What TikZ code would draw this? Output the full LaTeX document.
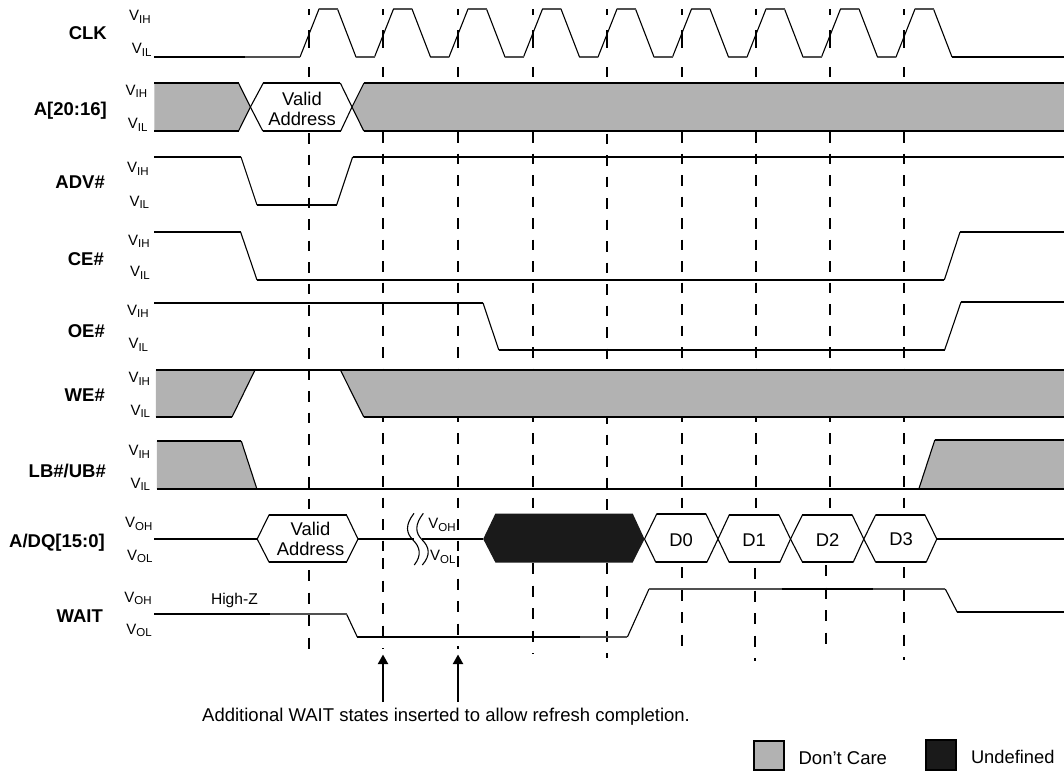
\documentclass[tikz,border=0pt]{standalone}
\usepackage{fontspec}
\setmainfont{Liberation Sans}
\usetikzlibrary{arrows.meta}
\definecolor{dc}{HTML}{B2B2B2}
\definecolor{ud}{HTML}{1A1A1A}
\definecolor{thinl}{HTML}{505050}
\newcommand{\vsub}[1]{\raisebox{-2.7pt}{\fontsize{11.5}{12}\selectfont #1}}
\newcommand{\dcol}[5]{%
  \draw[dashseg] (#1,9)--(#1,15) (#1,30)--(#1,48) (#1,67)--(#1,77);
  \draw[dashseg,dash pattern=on 10.5pt off 11pt] (#1,#3)--(#1,556);
  \draw[dashseg,dash pattern=on 11pt off 11.5pt] (#2,#4)--(#2,#5);
}
\tikzset{
  x=1pt,y=-1pt,
  siglabel/.style={inner sep=0pt,anchor=base east,font=\fontsize{18.5}{20}\selectfont\bfseries},
  lvl/.style={inner sep=0pt,anchor=base west,font=\fontsize{15}{16}\selectfont},
  txt/.style={inner sep=0pt,font=\fontsize{18.4}{20}\selectfont,align=center},
  hl/.style={line width=2pt,black,line join=miter},
  tl/.style={line width=1.4pt,thinl},
  sl/.style={line width=1.1pt,black,line join=round},
  dashseg/.style={line width=2pt,black},
  dcfill/.style={fill=dc,draw=none},
  hexa/.style={fill=white,draw=black,line width=1.1pt,line join=miter},
  legendbox/.style={line width=2pt,draw=black},
  callout/.style={line width=2pt,-{Triangle[length=9.5pt,width=10pt]}}
}
\begin{document}
\begin{tikzpicture}
\useasboundingbox (0,0) rectangle (1064,772);
\fill[white] (0,0) rectangle (1064,772);
% reference lines
\dcol{309}{309}{133}{570}{654}
\dcol{383}{383}{132}{558}{649}
\dcol{458}{458}{132}{556}{649}
\dcol{533}{533}{132}{563}{654}
\dcol{607}{607}{133.5}{563}{658}
\dcol{682}{682}{132}{567}{656}
\dcol{756}{755}{132}{568}{661}
\dcol{830}{826}{132}{565}{655}
\dcol{904}{904}{132}{567}{660}
% CLK
\draw[sl] (300,57)
  \foreach \k in {0,...,8} {
    -- ({300+74.5*\k+19},9) -- ({300+74.5*\k+37.5},9) -- ({300+74.5*\k+56},57)
    \ifnum\k<8 -- ({300+74.5*\k+74.5},57)\fi
  };
\foreach \k in {0,...,8} {
  \draw[tl] ({300+74.5*\k+19},9) -- ({300+74.5*\k+37.5},9);
  \ifnum\k<8 \draw[tl] ({300+74.5*\k+56},57) -- ({300+74.5*\k+74.5},57);\fi
}
\draw[tl] (245,57)--(300,57);
\draw[hl] (154.4,57)--(245,57) (952,57)--(1064,57);
% A[20:16]
\fill[dcfill] (154.4,83)--(238.5,83)--(250.4,107)--(238.5,131)--(154.4,131)--cycle;
\fill[dcfill] (352,107)--(364,83)--(1064,83)--(1064,131)--(363.5,131)--cycle;
\fill[white] (250.4,107)--(263.3,83)--(340.3,83)--(352,107)--(340.7,131)--(262.8,131)--cycle;
\draw[sl] (238.5,83)--(250.4,107)--(238.5,131);
\draw[sl] (263.3,83)--(250.4,107)--(262.8,131);
\draw[sl] (340.3,83)--(352,107)--(340.7,131);
\draw[sl] (364,83)--(352,107)--(363.8,131);
\draw[hl] (154.4,83)--(238.5,83) (154.4,131)--(238.5,131);
\draw[hl] (263.3,83)--(340.3,83) (262.8,131)--(340.7,131);
\draw[hl] (364,83)--(1064,83) (363.8,131)--(1064,131);
\node[txt] (va1) at (302,109) {Valid\\Address};
% ADV#
\draw[sl] (241,157)--(257,205) (336.6,205)--(352.6,157);
\draw[hl] (154.4,157)--(241,157) (257,205)--(336.6,205) (352.6,157)--(1064,157);
% CE#
\draw[sl] (240.6,232)--(257,280) (944.3,280)--(960,232);
\draw[hl] (154.4,232)--(240.6,232) (257,280)--(944.3,280) (960,232)--(1064,232);
% OE#
\draw[sl] (483,303)--(498.8,350) (944.6,350)--(961,302);
\draw[hl] (154.4,303)--(483,303) (498.8,350)--(944.6,350) (961,302)--(1064,302);
% WE#
\fill[dcfill] (155.8,370)--(255,370)--(232,417)--(155.8,417)--cycle;
\fill[dcfill] (340.4,370)--(1064,370)--(1064,417)--(363.8,417)--cycle;
\draw[sl] (255,370)--(232,417) (340.4,370)--(363.8,417);
\draw[hl] (155.8,370)--(1064,370) (155.8,417)--(232,417) (363.8,417)--(1064,417);
% LB#/UB#
\fill[dcfill] (156.8,441)--(241.3,441)--(256.9,489)--(156.8,489)--cycle;
\fill[dcfill] (918.8,489)--(934.8,440)--(1064,440)--(1064,489)--cycle;
\draw[sl] (241.3,441)--(256.9,489) (918.8,489)--(934.8,440);
\draw[hl] (156.8,441)--(241.3,441) (156.8,489)--(1064,489) (934.8,440)--(1064,440);
% A/DQ[15:0]
\draw[hl] (154.4,539)--(257.2,539) (358,539)--(414,539) (422.3,539)--(483.2,539) (936.8,539)--(1064,539);
\draw[hexa] (257.2,539)--(269,515)--(346.5,515)--(358,539)--(346.5,562)--(269,562)--cycle;
\draw[hl] (269,515)--(346.5,515) (269,562)--(346.5,562);
\node[txt] (va2) at (310.5,538.5) {Valid\\Address};
\draw[sl] (414,513.3) .. controls (405,525) and (406,533) .. (413,540) .. controls (420,547) and (422,555) .. (414.3,565);
\draw[sl] (423.3,513.3) .. controls (414.3,525) and (415.3,533) .. (422.3,540) .. controls (429.3,547) and (431,555) .. (422.3,565);
\fill[ud] (483.2,539)--(495.4,513.5)--(632.7,513.5)--(644.5,539)--(632.7,562.5)--(495.4,562.5)--cycle;
\foreach \a/\b/\c/\d/\e/\f/\g in {
  644.5/656.7/706/718/707/655.7/514,
  718/729.2/779/790.5/780/729/515,
  790.5/802.4/852.2/863.8/853.3/802.4/515,
  863.8/875.6/925/936.8/926.3/875.6/515}{
  \draw[hexa] (\a,539)--(\b,\g)--(\c,\g)--(\d,539)--(\e,562)--(\f,562)--cycle;
  \draw[hl] (\b,\g)--(\c,\g) (\f,562)--(\e,562);
}
\node[txt] (d0) at (681,540.5) {D0};
\node[txt] (d1) at (754,540.5) {D1};
\node[txt] (d2) at (827.5,540.5) {D2};
\node[txt] (d3) at (901,539.5) {D3};
% WAIT
\draw[sl] (346.5,614)--(357.3,637) (627.4,637)--(649,589) (945.3,589)--(957.2,612);
\draw[tl] (270,614)--(346.5,614) (580,637)--(627.4,637) (649,589)--(781.7,589) (873,589)--(945.3,589);
\draw[hl] (154.4,614)--(270,614) (357.3,637)--(580,637) (781.7,589)--(873,589) (957.2,612)--(1064,612);
\node[inner sep=0pt,anchor=base west,font=\fontsize{15.6}{16}\selectfont] (hz) at (210.8,604.3) {High-Z};
% callout
\node[inner sep=0pt,anchor=base west,font=\fontsize{18.5}{20}\selectfont] (note) at (202,721) {Additional WAIT states inserted to allow refresh completion.};
\coordinate (t1) at (383,702); \coordinate (h1) at (383,654.5);
\coordinate (t2) at (458,702); \coordinate (h2) at (458,654.5);
\draw[callout] (t1)--(h1);
\draw[callout] (t2)--(h2);
% legend
\draw[legendbox,fill=dc] (754,741) rectangle (783.5,770);
\draw[legendbox,fill=ud] (926,739.5) rectangle (955.5,769.5);
\node[inner sep=0pt,anchor=base west,font=\fontsize{18.5}{20}\selectfont] (ldc) at (798.4,764) {Don’t Care};
\node[inner sep=0pt,anchor=base west,font=\fontsize{18.3}{20}\selectfont] (lud) at (970.8,763.3) {Undefined};
% signal names
\node[siglabel] (nclk) at (107,39) {CLK};
\node[siglabel] (na) at (107,115) {A[20:16]};
\node[siglabel] (nadv) at (105,188.3) {ADV\#};
\node[siglabel] (nce) at (104,265) {CE\#};
\node[siglabel] (noe) at (105,337.6) {OE\#};
\node[siglabel] (nwe) at (105,401.8) {WE\#};
\node[siglabel] (nlb) at (106,477) {LB\#/UB\#};
\node[siglabel] (ndq) at (105,547.6) {A/DQ[15:0]};
\node[siglabel] (nwait) at (103,622.3) {WAIT};
% levels
\node[lvl] (l1h) at (129,20.7) {V\vsub{IH}};
\node[lvl] (l1l) at (131.6,53.3) {V\vsub{IL}};
\node[lvl] (l2h) at (125.5,95) {V\vsub{IH}};
\node[lvl] (l2l) at (127.6,128.3) {V\vsub{IL}};
\node[lvl] (l3h) at (127,172.7) {V\vsub{IH}};
\node[lvl] (l3l) at (129.3,206) {V\vsub{IL}};
\node[lvl] (l4h) at (128,245) {V\vsub{IH}};
\node[lvl] (l4l) at (130,276.7) {V\vsub{IL}};
\node[lvl] (l5h) at (127,315) {V\vsub{IH}};
\node[lvl] (l5l) at (128.3,348.3) {V\vsub{IL}};
\node[lvl] (l6h) at (128.3,382.7) {V\vsub{IH}};
\node[lvl] (l6l) at (130.3,415) {V\vsub{IL}};
\node[lvl] (l7h) at (128.3,455.3) {V\vsub{IH}};
\node[lvl] (l7l) at (130.3,488) {V\vsub{IL}};
\node[lvl] (l8h) at (124.9,527.3) {V\vsub{OH}};
\node[lvl] (l8l) at (127,560) {V\vsub{OL}};
\node[lvl] (l9h) at (124.2,602) {V\vsub{OH}};
\node[lvl] (l9l) at (126.2,634) {V\vsub{OL}};
\node[lvl] (lbh) at (428.2,528.3) {V\vsub{OH}};
\node[lvl] (lbl) at (430,560.7) {V\vsub{OL}};
\end{tikzpicture}
\end{document}
